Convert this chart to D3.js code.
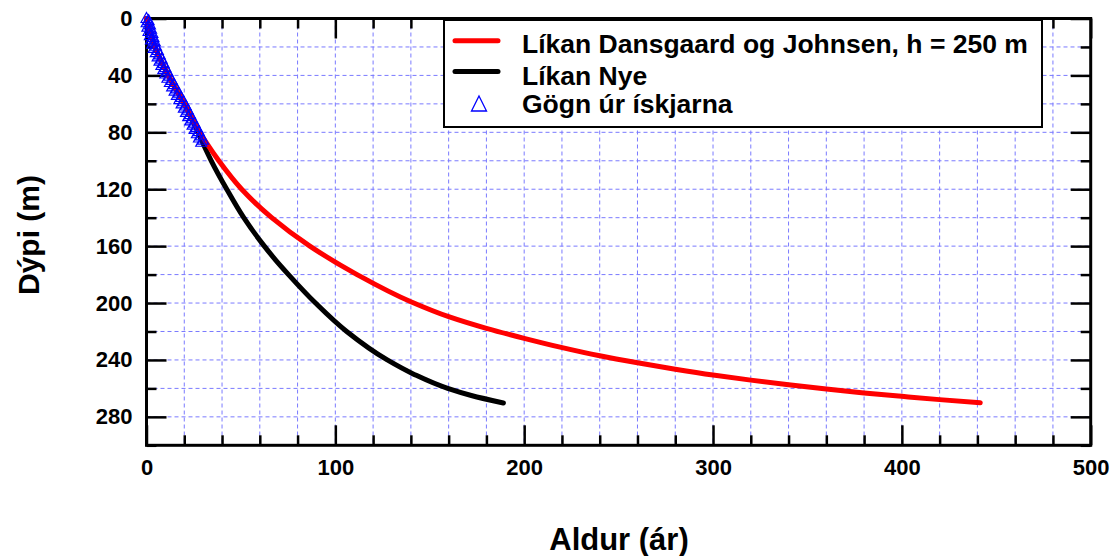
<!DOCTYPE html>
<html><head><meta charset="utf-8">
<script src="https://cdn.jsdelivr.net/npm/d3@7/dist/d3.min.js"></script>
<style>
body{margin:0;background:#fff;}
svg{display:block;font-family:"Liberation Sans",Arial,sans-serif;font-weight:bold;}
</style></head><body>
<svg id="c" width="1117" height="556"></svg>
<script>
// ---- data ----
const xTicksMajor = [0,100,200,300,400,500];
const yTicksMajor = [0,40,80,120,160,200,240,280];
const xLabel = "Aldur (ár)";
const yLabel = "Dýpi (m)";
const legendLabels = ["Líkan Dansgaard og Johnsen, h = 250 m","Líkan Nye","Gögn úr ískjarna"];

// Dansgaard-Johnsen model (age, depth)
const djAge   = [0, 4.5, 11.5, 20, 28.2, 32.0, 38.3, 50.4, 66.3, 86.5, 111.5, 140, 160, 180, 200, 219, 240, 260, 280, 300, 320, 340, 360, 380, 400, 420, 441.5];
const djDepth = [0, 20, 40, 60, 80, 88, 100, 120, 140, 160, 180, 199.1, 209.6, 217.8, 224.8, 231.0, 237.1, 242, 246.5, 250.6, 254.2, 257.5, 260.5, 263.2, 265.6, 267.9, 270.1];
// Nye model (age, depth)
const nyeAge   = [0, 4.5, 11.5, 20, 27.3, 30.0, 34.3, 42.5, 51.5, 62.4, 68.5, 75.2, 89.5, 106, 127.5, 141.5, 159.5, 172, 189];
const nyeDepth = [0, 20, 40, 60, 80, 88, 100, 120, 140, 160, 170, 180, 200, 220, 240, 250, 260, 265, 270.3];
// ice core data (age, depth)
const coreAge   = [0,1.1,0.1,1.8,0.5,2.4,1.1,3.1,1.8,3.7,2.4,4.4,3.1,5.0,3.8,6.0,4.9,7.0,5.9,8.0,6.9,9.0,7.9,10.0,8.9,11.1,10.0,12.1,11.1,13.4,12.4,14.6,13.6,15.8,14.9,17.1,16.1,18.3,17.4,19.6,18.6,20.8,19.8,21.9,20.9,23.1,22.1,24.2,23.2,25.4,24.4,26.5,25.5,27.7,26.7,28.8,27.8,29.9,29.0];
const coreDepth = [0,1.5,3,4.5,6,7.5,9,10.5,12,13.5,15,16.5,18,19.5,21,22.5,24,25.5,27,28.5,30,31.5,33,34.5,36,37.5,39,40.5,42,43.5,45,46.5,48,49.5,51,52.5,54,55.5,57,58.5,60,61.5,63,64.5,66,67.5,69,70.5,72,73.5,75,76.5,78,79.5,81,82.5,84,85.5,87];

// ---- layout ----
const svg = d3.select("#c");
const x = d3.scaleLinear().domain([0,500]).range([146.5,1090.7]);
const y = d3.scaleLinear().domain([0,300]).range([18.5,445.3]);
const x0=x.range()[0], x1=x.range()[1], y0=y.range()[0], y1=y.range()[1];
const gridVals = d3.range(20,500,20);
const gridValsY = d3.range(20,300,20);

// grid
const g = svg.append("g");
g.selectAll(".gx").data(gridVals).join("line")
  .attr("x1",d=>x(d)).attr("x2",d=>x(d)).attr("y1",y0).attr("y2",y1)
  .attr("stroke","#7a7aff").attr("stroke-width",1).attr("stroke-dasharray","4,3");
g.selectAll(".gy").data(gridValsY).join("line")
  .attr("x1",x0).attr("x2",x1).attr("y1",d=>y(d)).attr("y2",d=>y(d))
  .attr("stroke","#7a7aff").attr("stroke-width",1).attr("stroke-dasharray","4,3");

// axes ticks
const minorX = d3.range(0,501,20).filter(d=>d%100!==0);
const minorY = d3.range(0,301,20).filter(d=>d%40!==0);
const majorYall = d3.range(0,301,40);
function axisG(gen, tr){
  const a = svg.append("g").attr("transform",tr).call(gen);
  a.select(".domain").remove();
  a.selectAll(".tick line").attr("stroke","#000").attr("stroke-width",2.5);
  a.selectAll("text").attr("font-size",22).attr("font-weight","bold").attr("fill","#000")
    .attr("font-family",'"Liberation Sans",Arial,sans-serif');
  return a;
}
axisG(d3.axisBottom(x).tickValues(xTicksMajor).tickSize(-20).tickPadding(14).tickFormat(d3.format("d")), `translate(0,${y1})`);
axisG(d3.axisBottom(x).tickValues(minorX).tickSize(-10).tickFormat(""), `translate(0,${y1})`);
axisG(d3.axisTop(x).tickValues(xTicksMajor).tickSize(-20).tickFormat(""), `translate(0,${y0})`);
axisG(d3.axisTop(x).tickValues(minorX).tickSize(-10).tickFormat(""), `translate(0,${y0})`);
axisG(d3.axisLeft(y).tickValues(yTicksMajor).tickSize(-20).tickPadding(14).tickFormat(d3.format("d")), `translate(${x0},0)`);
axisG(d3.axisLeft(y).tickValues(minorY).tickSize(-10).tickFormat(""), `translate(${x0},0)`);
axisG(d3.axisRight(y).tickValues(majorYall).tickSize(-20).tickFormat(""), `translate(${x1},0)`);
axisG(d3.axisRight(y).tickValues(minorY).tickSize(-10).tickFormat(""), `translate(${x1},0)`);

// frame
svg.append("rect").attr("x",x0).attr("y",y0).attr("width",x1-x0).attr("height",y1-y0)
  .attr("fill","none").attr("stroke","#000").attr("stroke-width",3);

// lines
const line = d3.line().x(d=>x(d[0])).y(d=>y(d[1])).curve(d3.curveMonotoneY);
svg.append("path").datum(d3.zip(nyeAge,nyeDepth)).attr("d",line)
  .attr("fill","none").attr("stroke","#000").attr("stroke-width",5).attr("stroke-linecap","round");
svg.append("path").datum(d3.zip(djAge,djDepth)).attr("d",line)
  .attr("fill","none").attr("stroke","#ff0000").attr("stroke-width",5).attr("stroke-linecap","round");

// triangles
function tri(cx,cy,w,h){return `M${cx},${cy-h*0.6}L${cx+w/2},${cy+h*0.4}L${cx-w/2},${cy+h*0.4}Z`;}
svg.append("g").selectAll("path").data(d3.zip(coreAge,coreDepth)).join("path")
  .attr("d",d=>tri(x(d[0]),y(d[1]),11,10))
  .attr("fill","none").attr("stroke","#0000ff").attr("stroke-width",1.2);

// legend
const lg = svg.append("g");
lg.append("rect").attr("x",444).attr("y",20).attr("width",598).attr("height",107)
  .attr("fill","#fff").attr("stroke","#000").attr("stroke-width",2);
lg.append("line").attr("x1",455).attr("x2",498).attr("y1",40.7).attr("y2",40.7)
  .attr("stroke","#ff0000").attr("stroke-width",5).attr("stroke-linecap","round");
lg.append("line").attr("x1",455).attr("x2",498).attr("y1",71.5).attr("y2",71.5)
  .attr("stroke","#000").attr("stroke-width",5).attr("stroke-linecap","round");
lg.append("path").attr("d",tri(479,105,15,15)).attr("fill","none").attr("stroke","#0000ff").attr("stroke-width",1.3);
lg.selectAll("text").data(legendLabels).join("text")
  .attr("x",522).attr("y",(d,i)=>[43,75,103][i]).attr("dy","0.36em")
  .attr("font-size",26.5).attr("fill","#000").text(d=>d);

// axis titles
svg.append("text").attr("x",619).attr("y",550).attr("text-anchor","middle")
  .attr("font-size",31).text(xLabel);
svg.append("text").attr("transform","translate(39,235) rotate(-90)").attr("text-anchor","middle")
  .attr("font-size",30).text(yLabel);
</script>
</body></html>
